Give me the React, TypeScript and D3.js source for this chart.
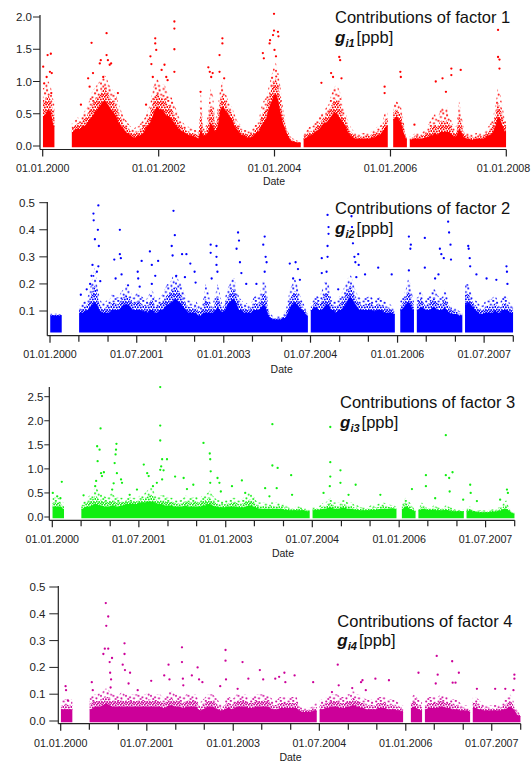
import React from "react";
import * as d3 from "d3";

const N = null;

// ---------- Factor 1 (half-month bins 2000-01 .. 2007-12): dense band top and sparse upper edge ----------
const F1_CORE = [
  0.45,0.5,0.55,0.5,0.3,N,N,N,N,N,N,N,0.2,0.25,0.25,0.25,0.3,0.3,0.35,0.4,0.45,0.5,0.55,0.6,
  0.65,0.7,0.65,0.6,0.55,0.5,0.45,0.35,0.3,0.25,0.2,0.18,0.15,0.12,0.12,0.14,0.15,0.18,0.25,0.3,0.35,0.45,0.55,0.6,
  0.55,0.55,0.5,0.45,0.45,0.4,0.35,0.3,0.25,0.22,0.2,0.18,0.15,0.15,0.14,0.12,0.1,0.25,0.15,0.15,0.2,0.35,0.3,0.2,
  0.3,0.55,0.6,0.55,0.5,0.45,0.4,0.3,0.25,0.2,0.15,0.15,0.12,0.12,0.12,0.15,0.2,0.2,0.3,0.35,0.4,0.55,0.65,0.75,
  0.8,0.7,0.5,0.35,0.25,0.15,0.08,0.06,0.05,0.04,0.04,N,0.1,0.12,0.15,0.15,0.2,0.22,0.25,0.3,0.35,0.35,0.4,0.45,
  0.5,0.5,0.45,0.4,0.35,0.3,0.2,0.15,0.12,0.1,0.1,0.1,0.1,0.1,0.1,0.1,0.12,0.12,0.15,0.15,0.2,0.25,0.3,N,
  N,0.4,0.45,0.4,0.35,0.2,0.1,N,0.08,0.1,0.1,0.1,0.1,0.1,0.12,0.12,0.15,0.15,0.2,0.15,0.2,0.2,0.2,0.2,
  0.2,0.15,0.12,0.15,0.25,0.2,0.12,0.1,0.1,0.08,0.08,0.1,0.1,0.1,0.1,0.12,0.15,0.15,0.2,0.3,0.45,0.4,0.3,0.2,
];
const F1_UPPER = [
  0.9,1.0,1.0,0.9,0.7,N,N,N,N,N,N,N,0.35,0.4,0.45,0.4,0.5,0.55,0.6,0.75,0.85,0.9,0.95,1.0,
  1.05,1.1,1.05,0.95,0.9,0.85,0.8,0.65,0.55,0.45,0.4,0.35,0.3,0.25,0.3,0.3,0.35,0.4,0.45,0.55,0.65,0.85,1.0,1.05,
  0.95,0.95,0.95,0.85,0.8,0.75,0.65,0.55,0.45,0.4,0.35,0.3,0.3,0.28,0.25,0.25,0.2,0.85,0.3,0.3,0.5,0.9,0.8,0.4,
  0.6,0.9,1.0,0.85,0.75,0.65,0.6,0.5,0.4,0.35,0.3,0.25,0.25,0.22,0.25,0.3,0.35,0.4,0.6,0.7,0.75,0.9,1.05,1.2,
  1.3,1.15,0.9,0.6,0.4,0.25,0.15,0.12,0.1,0.08,0.08,N,0.2,0.25,0.3,0.3,0.35,0.4,0.45,0.5,0.55,0.6,0.65,0.8,
  0.9,0.95,0.9,0.8,0.6,0.5,0.4,0.3,0.25,0.2,0.2,0.18,0.2,0.2,0.22,0.2,0.25,0.25,0.3,0.3,0.35,0.5,0.55,N,
  N,0.65,0.7,0.65,0.6,0.4,0.15,N,0.15,0.18,0.2,0.2,0.2,0.22,0.25,0.3,0.4,0.45,0.5,0.4,0.55,0.6,0.55,0.6,
  0.5,0.35,0.3,0.3,0.7,0.5,0.25,0.2,0.2,0.18,0.18,0.2,0.2,0.2,0.2,0.25,0.3,0.35,0.45,0.6,0.9,0.8,0.6,0.4,
];
// isolated high points: [month since 01.2000, value]
const F1_SPIKES = [
  [0.1,1.23],[0.3,0.97],[0.8,1.07],[1.0,1.41],[1.7,1.43],[1.5,1.15],[1.9,1.13],[1.8,0.82],
  [7.9,0.64],[9.4,1.05],[9.7,0.92],[10.1,1.6],[10.4,1.13],[11.8,1.28],[12.0,1.33],[12.5,1.07],
  [13.2,1.75],[13.2,1.41],[13.5,1.33],[13.9,1.26],[14.2,1.28],[15.6,0.82],[21.4,0.64],[22.3,1.39],
  [22.5,1.27],[22.8,1.07],[23.3,1.67],[23.3,1.59],[23.5,1.49],[24.6,1.18],[25.2,1.26],[25.6,1.07],
  [25.9,1.02],[27.3,1.93],[27.3,1.82],[27.3,1.5],[27.3,1.15],[32.7,0.84],[34.3,1.22],[34.6,1.15],
  [34.9,1.07],[35.2,1.13],[36.6,1.41],[36.6,1.15],[37.2,1.67],[37.2,1.59],[37.6,1.05],[45.6,1.44],
  [45.8,1.36],[47.0,1.59],[47.1,1.64],[47.7,1.72],[47.9,2.05],[47.9,1.79],[48.0,1.49],[48.3,1.39],
  [48.7,1.77],[48.8,1.7],[57.7,0.98],[59.7,1.13],[60.1,1.07],[61.4,1.38],[61.6,1.33],[61.9,1.05],
  [70.8,0.92],[70.8,0.82],[74.1,1.15],[74.2,1.07],[77.0,0.33],[81.4,1.0],[82.8,1.05],[83.5,0.84],
  [84.6,1.2],[84.6,1.1],[86.6,1.18],[94.3,1.8],[94.3,1.38],[94.6,1.34],[94.6,1.2],
];

// ---------- Factor 2 ----------
const F2_CORE = [
  0.08,0.08,0.08,0.08,0.08,N,N,N,N,N,N,N,0.09,0.09,0.095,0.1,0.11,0.12,0.13,0.12,0.1,0.09,0.09,0.09,
  0.09,0.1,0.1,0.1,0.1,0.11,0.12,0.12,0.12,0.11,0.1,0.1,0.1,0.1,0.095,0.095,0.09,0.1,0.1,0.09,0.09,0.1,0.1,0.11,
  0.12,0.12,0.13,0.14,0.14,0.13,0.12,0.11,0.1,0.09,0.09,0.09,0.09,0.08,0.08,0.09,0.09,0.09,0.09,0.09,0.1,0.11,0.1,0.09,
  0.1,0.12,0.13,0.14,0.14,0.12,0.1,0.1,0.09,0.09,0.09,0.09,0.1,0.1,0.1,0.11,0.12,0.11,0.08,0.07,0.065,0.065,0.065,0.065,
  0.07,0.07,0.09,0.11,0.12,0.13,0.12,0.11,0.1,0.09,0.08,N,0.1,0.11,0.11,0.1,0.1,0.11,0.12,0.12,0.1,0.1,0.09,0.1,
  0.1,0.11,0.12,0.14,0.15,0.14,0.12,0.11,0.1,0.1,0.1,0.1,0.1,0.1,0.095,0.1,0.1,0.1,0.09,0.09,0.09,0.09,0.085,N,
  N,0.1,0.11,0.12,0.13,0.12,0.1,N,0.1,0.11,0.11,0.1,0.1,0.1,0.11,0.11,0.1,0.1,0.1,0.11,0.1,0.09,0.085,0.085,
  0.085,0.08,0.08,N,0.12,0.13,0.12,0.11,0.1,0.09,0.085,0.085,0.09,0.09,0.09,0.09,0.1,0.09,0.09,0.1,0.1,0.1,0.09,0.09,
];
const F2_UPPER = [
  0.09,0.09,0.09,0.09,0.09,N,N,N,N,N,N,N,0.12,0.13,0.14,0.15,0.18,0.22,0.26,0.2,0.15,0.13,0.13,0.14,
  0.14,0.16,0.16,0.15,0.15,0.17,0.18,0.2,0.18,0.17,0.15,0.16,0.18,0.16,0.15,0.14,0.15,0.17,0.18,0.14,0.14,0.15,0.16,0.18,
  0.2,0.2,0.22,0.24,0.23,0.21,0.2,0.17,0.15,0.14,0.14,0.13,0.14,0.12,0.12,0.14,0.2,0.18,0.13,0.13,0.16,0.2,0.16,0.12,
  0.15,0.18,0.2,0.22,0.22,0.18,0.15,0.14,0.13,0.13,0.12,0.13,0.15,0.16,0.15,0.18,0.22,0.2,0.12,0.09,0.08,0.08,0.08,0.08,
  0.09,0.1,0.14,0.18,0.2,0.22,0.2,0.16,0.14,0.12,0.1,N,0.13,0.15,0.16,0.15,0.17,0.2,0.22,0.2,0.15,0.14,0.14,0.15,
  0.16,0.18,0.2,0.22,0.24,0.21,0.18,0.16,0.15,0.14,0.15,0.15,0.16,0.15,0.14,0.15,0.15,0.14,0.14,0.13,0.13,0.12,0.11,N,
  N,0.14,0.16,0.18,0.22,0.2,0.15,N,0.15,0.18,0.16,0.14,0.15,0.16,0.18,0.18,0.16,0.15,0.15,0.18,0.16,0.14,0.12,0.11,
  0.11,0.1,0.1,N,0.2,0.2,0.17,0.15,0.14,0.13,0.12,0.12,0.14,0.15,0.14,0.15,0.16,0.14,0.13,0.15,0.16,0.15,0.13,0.12,
];
const F2_SPIKES = [
  [6.4,0.16],[7.6,0.18],[8.3,0.2],[8.6,0.23],[8.8,0.27],[9.0,0.46],[9.05,0.435],[9.3,0.365],[9.7,0.245],
  [9.9,0.4],[10.0,0.49],[10.1,0.34],[10.0,0.265],[10.4,0.21],[13.3,0.29],[13.6,0.22],[14.5,0.4],[14.5,0.31],
  [14.7,0.295],[14.85,0.235],[16.2,0.195],[18.2,0.245],[18.3,0.22],[18.6,0.19],[19.0,0.285],[20.7,0.32],
  [21.1,0.27],[21.1,0.2],[22.4,0.285],[21.8,0.23],[25.2,0.34],[25.4,0.305],[25.6,0.47],[25.9,0.38],[26.2,0.23],
  [27.4,0.31],[28.3,0.31],[28.0,0.225],[29.1,0.275],[30.0,0.245],[30.2,0.205],[33.3,0.345],[33.3,0.315],
  [33.5,0.22],[34.5,0.34],[34.5,0.3],[34.5,0.27],[34.7,0.245],[38.7,0.33],[39.0,0.39],[39.2,0.36],[39.4,0.28],
  [39.7,0.24],[40.7,0.2],[42.8,0.2],[44.2,0.345],[44.5,0.375],[44.7,0.3],[44.9,0.28],[44.5,0.245],[49.7,0.275],
  [50.9,0.28],[51.4,0.255],[51.8,0.215],[50.4,0.22],[56.3,0.295],[56.3,0.24],[57.5,0.455],[57.7,0.41],
  [57.7,0.385],[57.5,0.34],[57.5,0.3],[57.3,0.245],[59.7,0.18],[62.5,0.45],[62.6,0.41],[62.8,0.35],[63.1,0.3],
  [63.3,0.28],[63.9,0.31],[64.0,0.27],[63.5,0.225],[65.3,0.235],[68.0,0.26],[70.8,0.235],[74.4,0.375],
  [74.8,0.345],[74.7,0.33],[74.4,0.25],[77.7,0.37],[77.7,0.26],[79.8,0.22],[80.8,0.33],[81.1,0.31],[81.6,0.295],
  [82.5,0.43],[82.7,0.39],[83.0,0.345],[83.1,0.29],[80.5,0.235],[86.7,0.34],[86.8,0.33],[87.0,0.295],
  [87.1,0.265],[88.4,0.235],[90.5,0.22],[92.5,0.215],[94.6,0.265],[94.7,0.245],[94.8,0.2],
];

// ---------- Factor 3 ----------
const F3_CORE = [
  0.2,0.2,0.2,0.2,0.15,N,N,N,N,N,N,N,0.15,0.18,0.2,0.2,0.22,0.25,0.25,0.22,0.22,0.2,0.2,0.2,
  0.22,0.22,0.2,0.2,0.22,0.22,0.25,0.25,0.25,0.25,0.25,0.25,0.28,0.28,0.28,0.3,0.3,0.3,0.28,0.25,0.25,0.25,0.22,0.22,
  0.22,0.22,0.2,0.2,0.2,0.2,0.2,0.22,0.2,0.2,0.2,0.2,0.2,0.2,0.22,0.22,0.25,0.25,0.22,0.2,0.2,0.18,0.18,0.18,
  0.2,0.2,0.2,0.2,0.2,0.18,0.18,0.18,0.2,0.22,0.22,0.2,0.18,0.16,0.15,0.15,0.15,0.15,0.15,0.15,0.15,0.15,0.15,0.15,
  0.13,0.13,0.12,0.12,0.12,0.12,0.12,0.12,0.12,0.1,0.1,N,0.12,0.13,0.13,0.14,0.15,0.15,0.17,0.18,0.16,0.15,0.15,0.16,
  0.17,0.17,0.15,0.15,0.15,0.13,0.13,0.12,0.12,0.12,0.12,0.12,0.13,0.13,0.13,0.14,0.15,0.15,0.15,0.15,0.16,0.16,0.15,N,
  N,0.15,0.2,0.2,0.15,0.13,0.1,N,0.12,0.15,0.15,0.13,0.13,0.13,0.13,0.12,0.12,0.12,0.12,0.13,0.12,0.1,0.1,0.1,
  0.1,0.1,0.1,N,0.1,0.12,0.1,0.1,0.08,0.08,0.08,0.08,0.08,0.08,0.09,0.09,0.1,0.1,0.12,0.15,0.15,0.12,0.08,0.05,
];
const F3_UPPER = [
  0.4,0.4,0.4,0.35,0.3,N,N,N,N,N,N,N,0.3,0.35,0.4,0.45,0.5,0.6,0.6,0.5,0.5,0.45,0.4,0.45,
  0.5,0.45,0.4,0.4,0.4,0.4,0.4,0.4,0.4,0.4,0.4,0.4,0.45,0.45,0.5,0.55,0.6,0.6,0.5,0.45,0.45,0.45,0.45,0.4,
  0.4,0.4,0.4,0.35,0.35,0.35,0.4,0.45,0.4,0.4,0.4,0.45,0.4,0.4,0.45,0.45,0.5,0.55,0.45,0.4,0.35,0.35,0.35,0.35,
  0.35,0.35,0.4,0.4,0.4,0.35,0.35,0.4,0.45,0.5,0.5,0.45,0.35,0.3,0.3,0.3,0.3,0.3,0.3,0.3,0.3,0.3,0.3,0.3,
  0.25,0.25,0.2,0.2,0.2,0.22,0.22,0.2,0.2,0.18,0.15,N,0.2,0.22,0.22,0.25,0.3,0.3,0.35,0.4,0.3,0.3,0.3,0.3,
  0.35,0.35,0.3,0.3,0.3,0.25,0.25,0.22,0.2,0.2,0.2,0.22,0.25,0.25,0.25,0.28,0.3,0.3,0.28,0.28,0.25,0.25,0.22,N,
  N,0.3,0.4,0.35,0.3,0.25,0.15,N,0.2,0.3,0.25,0.22,0.22,0.2,0.25,0.22,0.2,0.2,0.2,0.25,0.22,0.2,0.18,0.15,
  0.15,0.15,0.15,N,0.2,0.22,0.18,0.15,0.14,0.14,0.14,0.14,0.14,0.15,0.16,0.16,0.18,0.2,0.22,0.3,0.35,0.22,0.15,0.1,
];
const F3_SPIKES = [
  [0.1,0.5],[1.0,0.43],[2.0,0.73],[1.7,0.39],[6.5,0.45],[8.9,0.64],[9.1,0.75],[9.4,1.16],[9.3,1.47],
  [9.8,1.4],[10.0,1.84],[10.1,0.91],[10.3,0.85],[10.7,0.93],[12.4,0.57],[12.7,0.7],[12.9,1.12],[13.1,1.3],
  [13.2,1.4],[13.3,1.52],[13.4,0.91],[14.3,0.78],[14.5,0.71],[16.1,0.46],[17.6,0.57],[19.0,1.09],[19.7,0.91],
  [20.0,0.85],[20.9,0.64],[21.7,0.71],[22.4,2.7],[22.4,1.9],[22.4,1.59],[22.8,1.2],[23.8,1.2],[22.6,1.05],
  [22.4,0.98],[23.1,0.97],[22.8,0.78],[25.5,0.84],[27.3,0.81],[28.0,0.58],[29.3,0.67],[31.4,1.54],[32.7,1.32],
  [32.8,1.2],[32.9,0.95],[32.8,0.71],[34.3,0.81],[34.7,0.71],[35.0,0.53],[37.3,0.64],[39.4,0.76],[40.1,0.5],
  [44.2,0.6],[45.1,0.43],[45.7,1.93],[45.7,1.07],[46.8,1.02],[46.6,0.6],[49.6,0.87],[49.8,0.46],[56.3,0.5],
  [57.7,1.87],[57.7,1.14],[57.7,0.84],[57.6,0.64],[59.8,0.97],[59.8,0.71],[61.5,0.46],[63.0,0.67],[68.1,0.46],
  [74.7,0.58],[77.6,0.87],[77.6,0.64],[79.5,0.39],[81.7,1.7],[81.7,0.87],[82.4,0.81],[83.1,0.93],[82.5,0.53],
  [85.3,0.36],[86.8,0.67],[86.9,0.5],[88.2,0.33],[93.0,0.36],[94.4,0.57],[94.6,0.5],
];

// ---------- Factor 4 ----------
const F4_CORE = [
  0.04,0.04,0.04,0.04,0.04,N,N,N,N,N,N,N,0.04,0.045,0.05,0.05,0.05,0.055,0.06,0.06,0.055,0.05,0.05,0.05,
  0.05,0.05,0.05,0.05,0.05,0.05,0.05,0.05,0.05,0.05,0.05,0.05,0.05,0.05,0.05,0.05,0.05,0.05,0.045,0.045,0.05,0.055,0.055,0.05,
  0.05,0.05,0.045,0.045,0.05,0.05,0.05,0.05,0.05,0.04,0.035,0.04,0.045,0.05,0.05,0.05,0.045,0.04,0.035,0.035,0.04,0.045,0.045,0.04,
  0.045,0.05,0.05,0.05,0.05,0.05,0.045,0.045,0.045,0.05,0.05,0.05,0.05,0.05,0.05,0.045,0.04,0.04,0.04,0.045,0.045,0.045,0.045,0.045,
  0.045,0.045,0.045,0.035,0.03,0.03,0.03,0.03,0.03,0.035,0.035,N,0.04,0.04,0.045,0.045,0.05,0.05,0.05,0.05,0.045,0.045,0.045,0.05,
  0.05,0.055,0.055,0.05,0.05,0.045,0.045,0.04,0.04,0.04,0.04,0.04,0.045,0.045,0.045,0.045,0.04,0.04,0.04,0.04,0.035,0.035,0.03,N,
  N,N,0.045,0.05,0.045,0.04,0.035,N,0.04,0.045,0.045,0.045,0.045,0.045,0.05,0.05,0.045,0.045,0.045,0.04,0.04,0.04,0.035,0.035,
  0.035,0.035,0.03,N,0.045,0.045,0.04,0.04,0.035,0.035,0.035,0.035,0.035,0.035,0.035,0.035,0.04,0.04,0.045,0.05,0.045,0.035,0.02,0.015,
];
const F4_UPPER = [
  0.08,0.08,0.08,0.08,0.08,N,N,N,N,N,N,N,0.09,0.1,0.1,0.1,0.11,0.11,0.12,0.12,0.11,0.1,0.1,0.1,
  0.1,0.11,0.1,0.1,0.1,0.1,0.1,0.1,0.1,0.1,0.1,0.1,0.11,0.11,0.1,0.1,0.1,0.1,0.09,0.09,0.1,0.11,0.11,0.1,
  0.1,0.1,0.09,0.09,0.1,0.1,0.1,0.1,0.1,0.08,0.07,0.08,0.09,0.1,0.1,0.1,0.09,0.08,0.065,0.06,0.08,0.09,0.09,0.08,
  0.09,0.1,0.1,0.1,0.1,0.1,0.09,0.09,0.09,0.1,0.1,0.1,0.1,0.1,0.1,0.09,0.08,0.08,0.08,0.09,0.09,0.09,0.09,0.09,
  0.09,0.09,0.09,0.06,0.05,0.05,0.05,0.05,0.05,0.06,0.07,N,0.08,0.08,0.09,0.09,0.1,0.1,0.1,0.1,0.09,0.09,0.09,0.1,
  0.1,0.11,0.11,0.1,0.1,0.09,0.09,0.08,0.08,0.08,0.08,0.08,0.09,0.09,0.09,0.09,0.08,0.08,0.08,0.08,0.07,0.07,0.06,N,
  N,N,0.09,0.1,0.09,0.08,0.07,N,0.08,0.09,0.09,0.09,0.09,0.09,0.1,0.1,0.09,0.09,0.09,0.08,0.08,0.08,0.07,0.06,
  0.06,0.06,0.05,N,0.09,0.09,0.08,0.07,0.06,0.06,0.06,0.06,0.06,0.06,0.06,0.06,0.07,0.08,0.09,0.1,0.09,0.06,0.04,0.03,
];
const F4_SPIKES = [
  [1.0,0.13],[1.1,0.115],[1.5,0.077],[6.5,0.145],[6.7,0.115],[8.9,0.25],[9.2,0.27],[9.4,0.44],[9.5,0.355],
  [9.9,0.39],[9.9,0.27],[10.2,0.22],[10.3,0.18],[10.7,0.235],[10.5,0.155],[10.4,0.125],[12.9,0.21],[13.3,0.29],
  [13.3,0.25],[13.4,0.19],[14.5,0.18],[14.2,0.14],[16.1,0.115],[18.9,0.15],[21.6,0.17],[22.5,0.21],[22.7,0.155],
  [25.3,0.275],[25.3,0.22],[25.5,0.158],[25.6,0.133],[27.4,0.17],[28.6,0.2],[28.9,0.155],[29.6,0.145],[33.3,0.13],
  [34.4,0.265],[34.4,0.225],[34.5,0.155],[36.9,0.12],[38.0,0.22],[39.2,0.158],[41.6,0.19],[42.3,0.155],[44.8,0.158],
  [45.6,0.165],[46.7,0.18],[46.9,0.145],[48.8,0.17],[52.7,0.145],[56.6,0.108],[57.8,0.21],[58.0,0.133],[60.8,0.123],
  [62.7,0.145],[63.0,0.152],[63.7,0.115],[65.7,0.158],[68.5,0.152],[74.7,0.18],[78.5,0.243],[78.7,0.173],[78.3,0.14],
  [81.7,0.223],[81.8,0.143],[82.4,0.143],[83.1,0.18],[86.9,0.12],[90.7,0.12],[92.8,0.12],[94.7,0.173],[94.7,0.158],
  [94.5,0.115],
];

const FACTORS = ["1", "2", "3", "4"];
const BASES = [0, 0.025, 0, 0];
const Y_TICKS = [
  [0, 0.5, 1.0, 1.5, 2.0],
  [0.1, 0.2, 0.3, 0.4, 0.5],
  [0, 0.5, 1.0, 1.5, 2.0, 2.5],
  [0, 0.1, 0.2, 0.3, 0.4, 0.5],
];
const SERIES = [
  { core: F1_CORE, upper: F1_UPPER, spikes: F1_SPIKES },
  { core: F2_CORE, upper: F2_UPPER, spikes: F2_SPIKES },
  { core: F3_CORE, upper: F3_UPPER, spikes: F3_SPIKES },
  { core: F4_CORE, upper: F4_UPPER, spikes: F4_SPIKES },
];

// ---------- layout / style ----------
const COLORS = ["#ff0000", "#0000ff", "#11ee11", "#cc0099"];
const LAYOUT = [
  { axX: 40, x0: 42.7, x1: 506.3, yDom: [0, 2], yRng: [146, 17], axY: 149.5, yTop: 15, years: 2,
    labBase: 171.5, yLabEnd: 32, yTick: 7, titleX: 335, t1: 23.3, t2: 43, dateX: 274, dateY: 185 },
  { axX: 47.3, x0: 50, x1: 513.3, yDom: [0.1, 0.5], yRng: [311, 202.7], axY: 335.7, yTop: 202, years: 0,
    labBase: 357.5, yLabEnd: 35, yTick: 8, titleX: 335, t1: 214, t2: 233.5, dateX: 281.7, dateY: 373.3 },
  { axX: 49.3, x0: 52.3, x1: 514.7, yDom: [0, 2.5], yRng: [517, 396.7], axY: 520.3, yTop: 387, years: 0,
    labBase: 543, yLabEnd: 43.5, yTick: 5, titleX: 340, t1: 408.3, t2: 428.3, dateX: 283, dateY: 556.7 },
  { axX: 58.3, x0: 60.7, x1: 520.7, yDom: [0, 0.5], yRng: [721, 587], axY: 723.7, yTop: 586, years: 0,
    labBase: 747, yLabEnd: 45.5, yTick: 9, titleX: 337.3, t1: 626.7, t2: 646, dateX: 290.5, dateY: 760.5 },
];
const FONT = "'Liberation Sans', Arial, Helvetica, sans-serif";
const INK = "#222";

// irregular dot tiles used to give the scattered look of the upper part of each band
const DENSE_DOTS = [[0.8,0.8],[3.6,1.2],[6.2,0.5],[1.9,3.3],[4.8,3.6],[7.3,2.9],[0.6,5.6],[3.2,5.9],[5.9,6.1],[2.0,7.6],[4.6,7.8],[7.4,7.0]];
const SPARSE_DOTS = [[1.2,1.5],[5.8,0.9],[9.6,2.8],[3.4,4.6],[7.6,5.9],[11.2,7.2],[1.0,8.4],[5.0,9.8],[9.0,10.9],[3.2,11.5]];

const START = new Date(2000, 0, 1);
const END = new Date(2008, 0, 1);
const fmt = d3.timeFormat("%d.%m.%Y");

function monthToDate(m: number): Date {
  const whole = Math.floor(m);
  const d0 = new Date(2000, whole, 1);
  const d1 = new Date(2000, whole + 1, 1);
  return new Date(+d0 + (m - whole) * (+d1 - +d0));
}

type Pt = { m: number; c: number; u: number } | null;

function Panel({ idx }: { idx: number }) {
  const L = LAYOUT[idx];
  const S = SERIES[idx];
  const color = COLORS[idx];
  const base = BASES[idx];
  const x = d3.scaleTime().domain([START, END]).range([L.x0, L.x1]);
  const y = d3.scaleLinear().domain(L.yDom).range(L.yRng);

  const pts: Pt[] = [];
  const n = S.core.length;
  for (let i = 0; i < n; i++) {
    const c = S.core[i];
    const u = S.upper[i];
    if (c == null || u == null) {
      pts.push(null);
      continue;
    }
    const prevNull = i === 0 || S.core[i - 1] == null;
    const nextNull = i === n - 1 || S.core[i + 1] == null;
    if (prevNull) pts.push({ m: i / 2 + 0.05, c, u });
    pts.push({ m: i / 2 + 0.25, c, u });
    if (nextNull) pts.push({ m: i / 2 + 0.45, c, u });
  }
  const px = (d: any) => x(monthToDate(d.m));
  const coreArea = d3
    .area<any>()
    .defined((d) => d != null)
    .x(px)
    .y0(y(base) + 1.2)
    .y1((d) => y(d.c) - 1);
  const haloLow = d3
    .area<any>()
    .defined((d) => d != null)
    .x(px)
    .y0((d) => y(d.c))
    .y1((d) => y((d.c + d.u) / 2));
  const haloHigh = d3
    .area<any>()
    .defined((d) => d != null)
    .x(px)
    .y0((d) => y((d.c + d.u) / 2))
    .y1((d) => y(d.u));

  const ticks =
    L.years > 0
      ? d3.timeYear.every(L.years)!.range(START, d3.timeDay.offset(END, 1))
      : d3.timeMonth.every(6)!.range(START, d3.timeDay.offset(END, 1));
  const labelEvery = L.years > 0 ? 1 : 3;

  return (
    <g>
      <defs>
        <pattern id={`pd${idx}`} width={8} height={8} patternUnits="userSpaceOnUse">
          {DENSE_DOTS.map((p, k) => (
            <circle key={k} cx={p[0]} cy={p[1]} r={1} fill={color} />
          ))}
        </pattern>
        <pattern id={`ps${idx}`} width={12.5} height={12.5} patternUnits="userSpaceOnUse">
          {SPARSE_DOTS.map((p, k) => (
            <circle key={k} cx={p[0]} cy={p[1]} r={1} fill={color} />
          ))}
        </pattern>
      </defs>
      <path d={haloHigh(pts) || ""} fill={`url(#ps${idx})`} />
      <path d={haloLow(pts) || ""} fill={`url(#pd${idx})`} />
      <path d={coreArea(pts) || ""} fill={color} />
      {S.spikes.map((s, k) => (
        <circle key={k} cx={x(monthToDate(s[0]))} cy={y(s[1])} r={1.15} fill={color} />
      ))}

      {/* axes */}
      <line x1={L.axX} x2={L.axX} y1={L.yTop} y2={L.axY} stroke={INK} strokeWidth={1.2} />
      <line x1={L.axX} x2={L.x1} y1={L.axY} y2={L.axY} stroke={INK} strokeWidth={1.2} />
      {Y_TICKS[idx].map((t) => (
        <g key={t}>
          <line x1={L.axX - L.yTick} x2={L.axX} y1={y(t)} y2={y(t)} stroke={INK} strokeWidth={1} />
          <text x={L.yLabEnd} y={y(t) + 4} textAnchor="end" fontSize={11.5} fontFamily={FONT} fill={INK}>
            {t.toFixed(1)}
          </text>
        </g>
      ))}
      {ticks.map((t, k) => {
        const isLab = k % labelEvery === 0;
        const tx = x(t);
        return (
          <g key={k}>
            <line x1={tx} x2={tx} y1={L.axY} y2={L.axY + (isLab ? 7 : 6)} stroke={INK} strokeWidth={1.2} />
            {isLab && (
              <text x={Math.min(tx, 503.5)} y={L.labBase} textAnchor="middle" fontSize={10.7} fontFamily={FONT} fill={INK}>
                {fmt(t)}
              </text>
            )}
          </g>
        );
      })}
      <text x={L.dateX} y={L.dateY} textAnchor="middle" fontSize={10.5} fontFamily={FONT} fill={INK}>
        Date
      </text>

      {/* title */}
      <text x={L.titleX} y={L.t1} fontSize={16.5} fontFamily={FONT} fill="#111">
        {`Contributions of factor ${FACTORS[idx]}`}
      </text>
      <text x={L.titleX} y={L.t2} fontFamily={FONT} fill="#111" fontSize={16.5}>
        <tspan fontWeight="bold" fontStyle="italic" fontSize={17}>g</tspan>
        <tspan fontWeight="bold" fontStyle="italic" fontSize={11} dy={4}>{`i${FACTORS[idx]}`}</tspan>
        <tspan dy={-4} dx={2}>[ppb]</tspan>
      </text>
    </g>
  );
}

export default function App() {
  return (
    <svg
      width={532}
      height={762}
      viewBox="0 0 532 762"
      style={{ position: "absolute", left: 0, top: 0, background: "#fff" }}
    >
      <rect width={532} height={762} fill="#fff" />
      {[0, 1, 2, 3].map((i) => (
        <Panel key={i} idx={i} />
      ))}
    </svg>
  );
}
